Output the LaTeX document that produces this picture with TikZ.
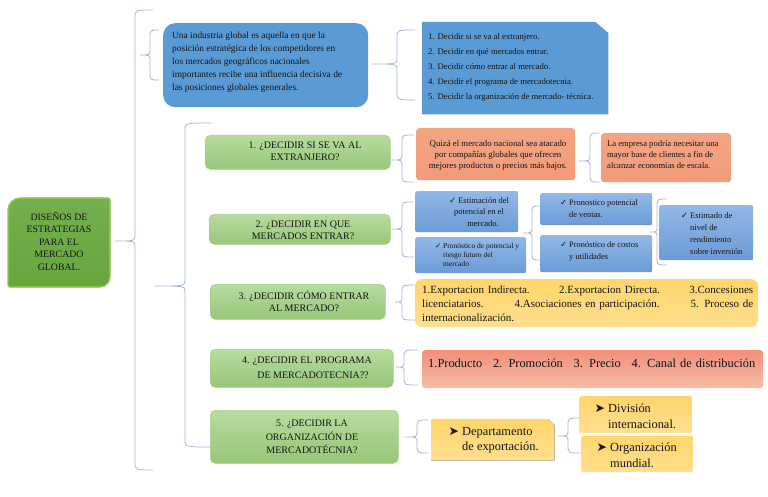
\documentclass[tikz,border=0pt]{standalone}
\usepackage{fontspec}
\setmainfont{Liberation Serif}
\newfontfamily\symf{DejaVu Sans}
\definecolor{brccol}{HTML}{A3B5D8}
\definecolor{gtop}{HTML}{B8DB9E}
\definecolor{gbot}{HTML}{97C679}
\definecolor{gdraw}{HTML}{A6CF8A}
\definecolor{roottop}{HTML}{74B04C}
\definecolor{rootbot}{HTML}{66A63E}
\definecolor{rootdraw}{HTML}{92D050}
\definecolor{bigblue}{HTML}{5B9BD5}
\definecolor{btop}{HTML}{92B8E6}
\definecolor{bbot}{HTML}{6B9BD7}
\definecolor{stop}{HTML}{F4A584}
\definecolor{sbot}{HTML}{F29A79}
\definecolor{s4top}{HTML}{F2907A}
\definecolor{s4bot}{HTML}{F6BBA7}
\definecolor{ytop}{HTML}{FFD56B}
\definecolor{ybot}{HTML}{FFDF8E}
\definecolor{txt}{HTML}{141414}
\newcommand{\ck}{{\symf\char"2713}}
\newcommand{\arr}{{\symf\char"27A4}}
% brace: tipx, tipy, vx, top, bottom, endx
\newcommand{\brc}[6]{\draw[brcline] (#6,#4) .. controls (#3,#4) .. (#3,{#4+8}) -- (#3,{#2-6}) .. controls (#3,#2) .. (#1,#2) .. controls (#3,#2) .. (#3,{#2+6}) -- (#3,{#5-8}) .. controls (#3,#5) .. (#6,#5);}
\begin{document}
\begin{tikzpicture}[x=1pt,y=-1pt,
  brcline/.style={draw=brccol, line width=0.8pt},
  boxbase/.style={anchor=north west, inner sep=0pt, text=txt},
  gq/.style={boxbase, rounded corners=5pt, top color=gtop, bottom color=gbot, draw=gdraw, line width=0.6pt},
  bsm/.style={boxbase, rounded corners=2pt, top color=btop, bottom color=bbot, draw=none},
  sal/.style={boxbase, rounded corners=3pt, top color=stop, bottom color=sbot, draw=none},
  yel/.style={boxbase, rounded corners=3pt, top color=ytop, bottom color=ybot, draw=none},
  qtext/.style={align=center, text=txt, font=\fontsize{10}{12}\selectfont, inner sep=0pt},
  stext/.style={text=txt, font=\fontsize{8.8}{11}\selectfont, inner sep=0pt},
]
\useasboundingbox (0,0) rectangle (768,497);

% ---------- root ----------
\fill[top color=roottop, bottom color=rootbot, draw=rootdraw, line width=1.2pt]
  (8,210) [rounded corners=12pt] -- (8,198) [rounded corners=2pt] -- (110,198)
  [rounded corners=10pt] -- (110,287) [rounded corners=2pt] -- (8,287) -- cycle;
\node[qtext, font=\fontsize{9.8}{12.5}\selectfont] (root) at (59,241)
  {DISEÑOS DE\\ESTRATEGIAS\\PARA EL\\MERCADO\\GLOBAL.};

% ---------- top blue ----------
\node[boxbase, fill=bigblue, rounded corners=12pt, minimum width=205pt, minimum height=84pt] (def) at (163,23) {};
\node[anchor=west, align=left, text=txt, inner sep=0pt, font=\fontsize{9.4}{13}\selectfont] (deft) at (172,62)
  {Una industria global es aquella en que la\\posición estratégica de los competidores en\\los mercados geográficos nacionales\\importantes recibe una influencia decisiva de\\las posiciones globales generales.};

\node[boxbase, minimum width=186pt, minimum height=92pt] (lst) at (422,22) {};
\fill[bigblue] (lst.north west) -- ([xshift=-13pt]lst.north east) -- ([yshift=-11pt]lst.north east)
  -- (lst.south east) -- (lst.south west) -- cycle;
\node[anchor=north west, align=left, text=txt, inner sep=0pt, font=\fontsize{8.7}{15}\selectfont] (lstt) at (428,33)
  {1. Decidir si se va al extranjero.\\2. Decidir en qué mercados entrar.\\3. Decidir cómo entrar al mercado.\\4. Decidir el programa de mercadotecnia.\\5. Decidir la organización de mercado- técnica.};

% ---------- questions ----------
\node[gq, minimum width=185pt, minimum height=34pt] (q1) at (205,135) {};
\node[qtext] at (305,151) {1. ¿DECIDIR SI SE VA AL\\EXTRANJERO?};
\node[gq, minimum width=181pt, minimum height=30pt] (q2) at (209,214) {};
\node[qtext] at (303,230) {2. ¿DECIDIR EN QUE\\MERCADOS ENTRAR?};
\node[gq, minimum width=175pt, minimum height=35pt] (q3) at (210,284) {};
\node[qtext] at (304,301) {3. ¿DECIDIR CÓMO ENTRAR\\AL MERCADO?};
\node[gq, minimum width=183pt, minimum height=38pt] (q4) at (210,349) {};
\node[qtext, font=\fontsize{10}{15}\selectfont] at (307,368) {4. ¿DECIDIR EL PROGRAMA\\\hspace*{12pt}DE MERCADOTECNIA??};
\node[gq, minimum width=188pt, minimum height=53pt] (q5) at (210,410) {};
\node[qtext, font=\fontsize{10}{13.5}\selectfont] at (312,437) {5. ¿DECIDIR LA\\ORGANIZACIÓN DE\\MERCADOTÉCNIA?};

% ---------- row 1 ----------
\node[sal, minimum width=159pt, minimum height=52pt] (s1) at (416,128) {};
\node[stext, align=center] at (498,155) {Quizá el mercado nacional sea atacado\\por compañías globales que ofrecen\\mejores productos o precios más bajos.};
\node[sal, minimum width=130pt, minimum height=49pt] (s2) at (601,133) {};
\node[stext, align=left, anchor=west, font=\fontsize{8.6}{11}\selectfont] at (607,155) {La empresa podría necesitar una\\mayor base de clientes a fin de\\alcanzar economías de escala.};

% ---------- row 2 ----------
\node[bsm, minimum width=103pt, minimum height=41pt] (ba) at (415,191) {};
\node[stext, align=center, font=\fontsize{8.5}{11.5}\selectfont] at (479,212) {\ck\ Estimación del\\potencial en el\\\hspace*{8pt}mercado.};
\node[bsm, minimum width=111pt, minimum height=36pt] (bb) at (415,237) {};
\node[stext, align=left, anchor=west, font=\fontsize{7.5}{9}\selectfont] at (443,255) {\llap{\ck\ }Pronóstico de potencial y\\riesgo futuro del\\mercado};
\node[bsm, minimum width=112pt, minimum height=32pt] (bc) at (540,193) {};
\node[stext, align=left, anchor=west, font=\fontsize{8.4}{12}\selectfont] at (569,209) {\llap{\ck\ }Pronostico potencial\\de ventas.};
\node[bsm, minimum width=112pt, minimum height=37pt] (bd) at (540,235) {};
\node[stext, align=left, anchor=west, font=\fontsize{8.4}{12}\selectfont] at (569,251) {\llap{\ck\ }Pronóstico de costos\\y utilidades};
\node[bsm, minimum width=94pt, minimum height=55pt] (be) at (659,205) {};
\node[stext, align=left, anchor=west, font=\fontsize{8.5}{12}\selectfont] at (690,234) {\llap{\ck\ }Estimado de\\nivel de\\rendimiento\\sobre inversión};

% ---------- row 3 ----------
\node[yel, rounded corners=7pt, minimum width=343pt, minimum height=48pt] (y3) at (415,279) {};
\node[stext, align=left, text width=331pt, anchor=west, font=\fontsize{11}{14}\selectfont] at (422,304)
  {1.Exportacion Indirecta.\hfill2.Exportacion Directa.\hfill3.Concesiones\\licenciatarios.\hfill4.Asociaciones en participación.\hfill5. Proceso de\\internacionalización.};

% ---------- row 4 ----------
\node[boxbase, rounded corners=3pt, top color=s4top, bottom color=s4bot, minimum width=341pt, minimum height=38pt] (s4) at (422,350) {};
\node[stext, align=left, text width=327pt, anchor=west, font=\fontsize{12.4}{14}\selectfont] at (428,363)
  {1.Producto\hfill2. Promoción\hfill3. Precio\hfill4. Canal de distribución};

% ---------- row 5 ----------
\node[boxbase, minimum width=123pt, minimum height=41pt] (y5a) at (431,419) {};
\fill[top color=ytop, bottom color=ybot] (y5a.north west) -- ([xshift=-6pt]y5a.north east) -- ([yshift=-6pt]y5a.north east)
  -- (y5a.south east) -- (y5a.south west) -- cycle;
\node[stext, align=left, anchor=west, font=\fontsize{12.4}{15}\selectfont] at (462,440) {\llap{\arr\ }Departamento\\de exportación.};
\node[yel, rounded corners=2pt, minimum width=113pt, minimum height=37pt] (y5b) at (579,396) {};
\node[stext, align=left, anchor=west, font=\fontsize{12.4}{16}\selectfont] at (608,416) {\llap{\arr\ }División\\internacional.};
\node[yel, rounded corners=2pt, minimum width=112pt, minimum height=36pt] (y5c) at (581,436) {};
\node[stext, align=left, anchor=west, font=\fontsize{12.4}{16}\selectfont] at (610,455) {\llap{\arr\ }Organización\\mundial.};

% ---------- braces ----------
\brc{115}{241}{135}{10}{470}{153}
\brc{140}{55}{150}{30}{80}{159}
\brc{155}{286}{185}{123}{447}{212}
\brc{372}{64}{397}{30}{100}{415}
\brc{392}{160}{402}{135}{182}{414}
\brc{578}{161}{590}{133}{182}{600}
\brc{392}{229}{402}{202}{257}{414}
\brc{523}{233}{532}{206}{260}{540}
\brc{650}{232}{657}{199}{265}{667}
\brc{395}{302}{402}{285}{320}{415}
\brc{396}{367}{404}{350}{385}{418}
\brc{405}{437}{417}{420}{453}{428}
\brc{558}{436}{568}{418}{453}{580}
\end{tikzpicture}
\end{document}
